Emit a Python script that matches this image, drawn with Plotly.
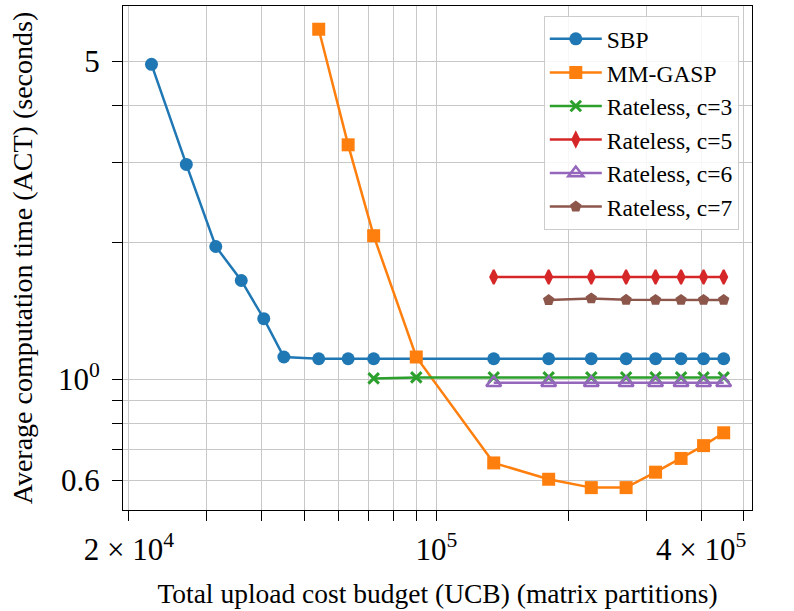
import plotly.graph_objects as go

# Upload cost budgets (matrix partitions) and measured average computation times (s)
ucb_sbp = [22500, 27000, 31500, 36000, 40500, 45000, 54000, 63000, 72000,
           135000, 180000, 225000, 270000, 315000, 360000, 405000, 450000]
act_sbp = [4.93, 2.97, 1.96, 1.65, 1.36, 1.12, 1.11, 1.11, 1.11,
           1.11, 1.11, 1.11, 1.11, 1.11, 1.11, 1.11, 1.11]

ucb_gasp = [54000, 63000, 72000, 90000, 135000, 180000, 225000, 270000,
            315000, 360000, 405000, 450000]
act_gasp = [5.89, 3.28, 2.07, 1.12, 0.655, 0.603, 0.578, 0.578,
            0.625, 0.670, 0.715, 0.763]

ucb_c3 = [72000, 90000, 135000, 180000, 225000, 270000, 315000, 360000, 405000, 450000]
act_c3 = [1.005, 1.01, 1.01, 1.01, 1.01, 1.01, 1.01, 1.01, 1.01, 1.01]

ucb_c5 = [135000, 180000, 225000, 270000, 315000, 360000, 405000, 450000]
act_c5 = [1.68, 1.68, 1.68, 1.68, 1.68, 1.68, 1.68, 1.68]

ucb_c6 = [135000, 180000, 225000, 270000, 315000, 360000, 405000, 450000]
act_c6 = [0.983, 0.983, 0.983, 0.983, 0.983, 0.983, 0.983, 0.983]

ucb_c7 = [180000, 225000, 270000, 315000, 360000, 405000, 450000]
act_c7 = [1.494, 1.507, 1.496, 1.495, 1.495, 1.495, 1.495]

# Axis ticks (gridlines at every tick, labels only on a few)
x_tick_vals = [20000, 30000, 40000, 50000, 60000, 70000, 80000, 90000,
               100000, 200000, 300000, 400000, 500000]
x_tick_text = ["2 × 10<sup>4</sup>", "", "", "", "", "", "", "",
               "10<sup>5</sup>", "", "", "4 × 10<sup>5</sup>", ""]
y_tick_vals = [0.6, 0.7, 0.8, 0.9, 1, 2, 3, 4, 5]
y_tick_text = ["0.6", "", "", "", "10<sup>0</sup>", "", "", "", "5"]

FONT = "Liberation Serif"
LW = 2.5

series = [
    ("SBP", ucb_sbp, act_sbp, "#1f77b4", dict(symbol="circle", size=13)),
    ("MM-GASP", ucb_gasp, act_gasp, "#ff7f0e", dict(symbol="square", size=13)),
    ("Rateless, c=3", ucb_c3, act_c3, "#2ca02c",
     dict(symbol="x-thin", size=10.5, line=dict(width=3, color="#2ca02c"))),
    ("Rateless, c=5", ucb_c5, act_c5, "#d62728",
     dict(symbol="diamond-tall", size=10, line=dict(width=2, color="#d62728"))),
    ("Rateless, c=6", ucb_c6, act_c6, "#9467bd",
     dict(symbol="triangle-up-open", size=13, line=dict(width=2.5, color="#9467bd"))),
    ("Rateless, c=7", ucb_c7, act_c7, "#8c564b", dict(symbol="pentagon", size=12)),
]

fig = go.Figure()
for name, xs, ys, color, marker in series:
    marker = dict(marker)
    marker["color"] = color
    fig.add_trace(go.Scatter(
        x=xs, y=ys, name=name, mode="lines+markers",
        line=dict(color=color, width=LW),
        marker=marker,
    ))

fig.update_layout(
    width=794, height=611,
    margin=dict(l=123, r=42, t=6, b=101),
    plot_bgcolor="white", paper_bgcolor="white",
    font=dict(family=FONT, color="black"),
    legend=dict(
        x=0.979, y=0.98, xanchor="right", yanchor="top",
        bgcolor="rgba(255,255,255,0.85)", bordercolor="#cccccc", borderwidth=1,
        font=dict(family=FONT, size=23.5, color="black"),
        itemwidth=52,
    ),
)

fig.update_xaxes(
    type="log", range=[4.2874, 5.7176],
    tickmode="array", tickvals=x_tick_vals, ticktext=x_tick_text,
    ticks="outside", ticklen=10, tickcolor="black", tickwidth=1,
    showline=True, linecolor="black", linewidth=1, mirror=True,
    showgrid=True, gridcolor="#c8c8c8", gridwidth=1, zeroline=False,
    tickfont=dict(family=FONT, size=31), ticklabelstandoff=2,
    title=dict(text="Total upload cost budget (UCB) (matrix partitions)",
               font=dict(family=FONT, size=27.5), standoff=17),
)
fig.update_yaxes(
    type="log", range=[-0.2873, 0.8212],
    tickmode="array", tickvals=y_tick_vals, ticktext=y_tick_text,
    ticks="outside", ticklen=10, tickcolor="black", tickwidth=1,
    showline=True, linecolor="black", linewidth=1, mirror=True,
    showgrid=True, gridcolor="#c8c8c8", gridwidth=1, zeroline=False,
    tickfont=dict(family=FONT, size=31), ticklabelstandoff=6,
    title=dict(text="Average computation time (ACT) (seconds)",
               font=dict(family=FONT, size=28), standoff=17),
)

fig.write_html("out.html")
